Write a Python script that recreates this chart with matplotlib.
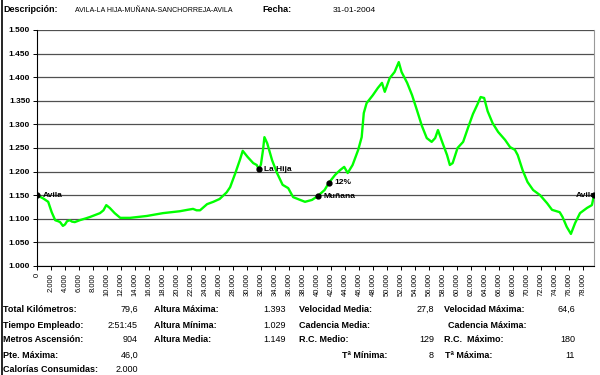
import numpy as np
from matplotlib import pyplot as plt
from matplotlib.lines import Line2D

# perfil: km recorridos y altura (m)
km = [0.0, 0.4, 0.9, 1.6, 2.1, 2.6, 3.0, 3.3, 3.7, 4.0, 4.3, 4.7, 5.0, 5.4, 6.1,
      7.0, 7.6, 8.3, 9.0, 9.5, 9.9, 10.4, 11.1, 11.9, 13.3, 15.7, 18.0, 20.4,
      21.5, 22.3, 22.8, 23.3, 24.3, 25.2, 26.1, 27.1, 27.6, 28.3, 29.0, 29.4,
      30.1, 30.9, 31.4, 31.7, 32.0, 32.3, 32.5, 32.9, 33.6, 34.3, 35.1, 35.9,
      36.6, 37.6, 38.3, 39.3, 40.1, 41.1, 41.7, 42.6, 43.3, 43.9, 44.4, 45.1,
      45.9, 46.4, 46.7, 47.1, 48.0, 48.7, 49.3, 49.7, 50.4, 51.1, 51.7, 52.1,
      52.9, 53.6, 54.3, 55.0, 55.7, 56.4, 56.9, 57.3, 57.9, 58.6, 59.0, 59.4,
      60.1, 60.9, 61.6, 62.3, 62.9, 63.4, 63.9, 64.4, 65.1, 65.9, 66.9, 67.6,
      68.3, 68.7, 69.4, 70.1, 70.9, 71.9, 72.9, 73.6, 74.7, 75.1, 75.7, 76.3,
      76.9, 77.6, 78.6, 79.3, 79.6]
alt = [1150, 1147, 1143, 1136, 1114, 1097, 1095, 1093, 1085, 1088, 1095, 1097,
       1094, 1093, 1097, 1101, 1104, 1108, 1112, 1118, 1129, 1123, 1112, 1102,
       1102, 1106, 1112, 1116, 1119, 1121, 1118, 1118, 1131, 1136, 1142, 1156,
       1167, 1195, 1225, 1244, 1231, 1218, 1214, 1205, 1215, 1246, 1273, 1260,
       1224, 1197, 1172, 1165, 1146, 1140, 1136, 1140, 1148, 1161, 1176, 1193,
       1203, 1210, 1197, 1214, 1246, 1273, 1324, 1345, 1362, 1377, 1388, 1369,
       1398, 1411, 1432, 1411, 1388, 1362, 1330, 1297, 1271, 1263, 1271, 1288,
       1263, 1235, 1214, 1218, 1250, 1263, 1293, 1322, 1341, 1358, 1356, 1328,
       1303, 1284, 1267, 1252, 1246, 1235, 1203, 1178, 1161, 1150, 1133, 1119,
       1114, 1104, 1083, 1068, 1091, 1112, 1123, 1129, 1150]

# puntos marcados
pt_names = ['Avila', 'La Hija', 'Muñana', '12%', 'Avila']
pt_km = [0.0, 31.7, 40.1, 41.7, 79.6]
pt_alt = [1150, 1205, 1148, 1176, 1150]

descripcion = 'AVILA-LA HIJA-MUÑANA-SANCHORREJA-AVILA'
fecha = '31-01-2004'

# tabla de resumen: (etiqueta, valor) por columna
col1 = [('Total Kilómetros:', '79,6'), ('Tiempo Empleado:', '2:51:45'),
        ('Metros Ascensión:', '904'), ('Pte. Máxima:', '46,0'),
        ('Calorías Consumidas:', '2.000')]
col2 = [('Altura Máxima:', '1.393'), ('Altura Mínima:', '1.029'),
        ('Altura Media:', '1.149')]
col3 = [('Velocidad Media:', '27,8'), ('Cadencia Media:', ''),
        ('R.C. Medio:', '129'), ('Tª Mínima:', '8')]
col4 = [('Velocidad Máxima:', '64,6'), ('Cadencia Máxima:', ''),
        ('R.C.  Máximo:', '180'), ('Tª Máxima:', '11')]

W, H = 600, 375


def fx(px):
    return px / W


def fy(py):
    return 1 - py / H


plt.rcParams['font.family'] = ['Liberation Sans', 'DejaVu Sans']
fig = plt.figure(figsize=(6, 3.75), dpi=100)
ax = fig.add_axes([fx(37), fy(266), fx(594) - fx(37), fy(30) - fy(266)])

ax.plot(km, alt, color='#00ff00', lw=1.7, zorder=3)
ax.plot(pt_km, pt_alt, 'o', color='black', ms=3.5, zorder=4)
for i, name in enumerate(pt_names):
    if i == len(pt_names) - 1:
        ax.annotate(name, (pt_km[i], pt_alt[i]), xytext=(1, 0), textcoords='offset points',
                    ha='right', va='center', fontsize=6, fontweight='bold', zorder=5)
    else:
        ax.annotate(name, (pt_km[i], pt_alt[i]), xytext=(4, 0), textcoords='offset points',
                    ha='left', va='center', fontsize=6, fontweight='bold', zorder=5)

ax.set_xlim(0, 79.6)
ax.set_ylim(1000, 1500)
yt = np.arange(1000, 1501, 50)
ax.set_yticks(yt)
ax.set_yticklabels(['%d.%03d' % (v // 1000, v % 1000) for v in yt],
                   fontsize=6, fontweight='bold')
xt = np.arange(0, 79, 2)
ax.set_xticks(xt)
ax.set_xticklabels(['0' if v == 0 else '%d.000' % v for v in xt],
                   fontsize=5.5, rotation=90)
ax.tick_params(axis='both', length=3, width=0.7, pad=2, colors='black')
ax.grid(axis='y', color='#505050', lw=0.9)
ax.set_axisbelow(True)
ax.spines['top'].set_visible(False)
ax.spines['right'].set_color('#999999')
ax.spines['left'].set_linewidth(0.8)
ax.spines['bottom'].set_linewidth(0.8)

# cabecera
fig.text(fx(3), fy(10), 'Descripción:', fontsize=6.5, fontweight='bold', va='center')
fig.text(fx(75), fy(10), descripcion, fontsize=5, va='center')
fig.text(fx(262), fy(10), 'Fecha:', fontsize=6.5, fontweight='bold', va='center')
fig.text(fx(333), fy(10), fecha, fontsize=6, va='center')

# tabla inferior
rows_y = [309, 325, 340, 355, 370]
cols = [(col1, [3] * 5, 138), (col2, [154] * 3, 286),
        (col3, [299, 299, 299, 342], 434), (col4, [444, 448, 444, 445], 575)]
for data, lx, vx in cols:
    for j, (lab, val) in enumerate(data):
        fig.text(fx(lx[j]), fy(rows_y[j]), lab, fontsize=6.5, fontweight='bold', va='center')
        fig.text(fx(vx), fy(rows_y[j]), val, fontsize=6.5, ha='right', va='center')

fig.add_artist(Line2D([fx(1.5), fx(1.5)], [0, 1], color='black', lw=1.2))

fig.savefig('out.png', dpi=100)
